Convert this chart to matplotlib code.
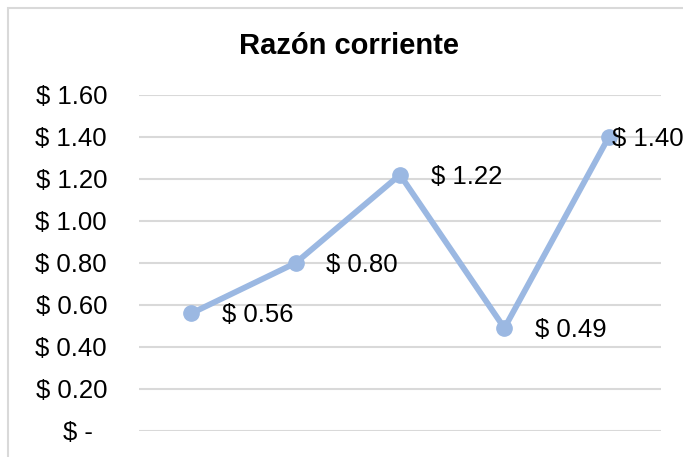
import matplotlib.pyplot as plt
from matplotlib.patches import Rectangle

# datos
periodos = ["P1", "P2", "P3", "P4", "P5"]
razon = [0.56, 0.80, 1.22, 0.49, 1.40]
etiquetas = ["$ 0.56", "$ 0.80", "$ 1.22", "$ 0.49", "$ 1.40"]
ticks_y = [0.0, 0.2, 0.4, 0.6, 0.8, 1.0, 1.2, 1.4, 1.6]
ticks_y_txt = ["$ -  ", "$ 0.20", "$ 0.40", "$ 0.60", "$ 0.80",
               "$ 1.00", "$ 1.20", "$ 1.40", "$ 1.60"]

plt.rcParams['font.family'] = ['Liberation Sans', 'DejaVu Sans']

W, H = 683, 457
fig = plt.figure(figsize=(W / 100, H / 100), dpi=100)

# marco del grafico (recortado a derecha y abajo)
fig.patches.append(Rectangle((8 / W, -0.1), 1.2, 1 - 8 / H + 0.1,
                             transform=fig.transFigure, fill=False,
                             edgecolor="#D9D9D9", linewidth=1.5))

ax = fig.add_axes([139 / W, 1 - 431 / H, 522 / W, 336 / H])

x = list(range(len(periodos)))
ax.plot(x, razon, color="#9BB8E2", linewidth=4.2, marker="o",
        markersize=11, solid_joinstyle="miter", zorder=3)

for i, (v, t) in enumerate(zip(razon, etiquetas)):
    dx = 22 if i < len(razon) - 1 else 2.5
    ax.annotate(t, (i, v), xytext=(dx, -1.5), textcoords="offset points",
                ha="left", va="center", fontsize=18.5, color="black")

ax.set_xlim(-0.5, len(periodos) - 0.5)
ax.set_ylim(0, 1.6)
ax.set_yticks(ticks_y)
ax.set_yticklabels(ticks_y_txt, fontsize=18.5)
ax.set_xticks([])
ax.tick_params(axis="y", length=0, pad=23)
ax.grid(axis="y", color="#D9D9D9", linewidth=1.5)
ax.set_axisbelow(True)
for s in ax.spines.values():
    s.set_visible(False)

fig.text(349 / W, 1 - 46 / H, "Razón corriente", ha="center", va="center",
         fontsize=21, fontweight="bold")

fig.savefig("out.png", dpi=100)
